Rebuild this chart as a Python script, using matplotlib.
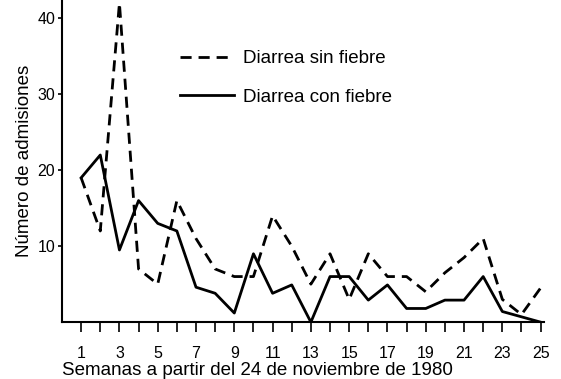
import matplotlib.pyplot as plt
import numpy as np

plt.rcParams['font.family'] = ['Liberation Sans', 'DejaVu Sans']

semanas = np.arange(1, 26)
sin_fiebre = [19, 12, 42, 7, 5, 16, 11, 7, 6, 6, 14, 10, 5, 9, 3, 9, 6, 6, 4, 6.5, 8.5, 11, 3, 1, 4.5]
con_fiebre = [19, 22, 9.5, 16, 13, 12, 4.6, 3.8, 1.2, 9, 3.8, 4.9, 0, 6, 6, 2.9, 4.9, 1.8, 1.8, 2.9, 2.9, 6, 1.4, 0.7, 0]
etiquetas_x = [str(s) if s % 2 == 1 else '' for s in semanas]

fig = plt.figure(figsize=(5.61, 3.79), dpi=100)
ax = fig.add_axes([0.1105, 0.15, 0.86, 0.85])

ax.plot(semanas, sin_fiebre, color='black', lw=2, ls=(0, (4, 2.5)), label='Diarrea sin fiebre')
ax.plot(semanas, con_fiebre, color='black', lw=2, label='Diarrea con fiebre')

ax.set_xlim(0, 25.2)
ax.set_ylim(0, 42.4)
ax.set_xticks(semanas)
ax.set_xticklabels(etiquetas_x, fontsize=11.5)
ax.set_yticks([10, 20, 30, 40])
ax.tick_params(axis='y', labelsize=11.5, length=3, width=1.2, pad=2)
ax.tick_params(axis='x', length=7, width=1.2, pad=10)
for s in ['top', 'right']:
    ax.spines[s].set_visible(False)
for s in ['left', 'bottom']:
    ax.spines[s].set_linewidth(1.5)

ax.set_xlabel('Semanas a partir del 24 de noviembre de 1980', fontsize=13.5, loc='left', labelpad=1)
ax.set_ylabel('Número de admisiones', fontsize=13.5, labelpad=3)

ax.legend(loc='upper left', bbox_to_anchor=(180 / 561, 1 - 50 / 379), bbox_transform=fig.transFigure,
          frameon=False, fontsize=13.5, handlelength=2.9, handletextpad=0.45,
          labelspacing=1.15, borderpad=0, borderaxespad=0)

fig.savefig('out.png', dpi=100)
